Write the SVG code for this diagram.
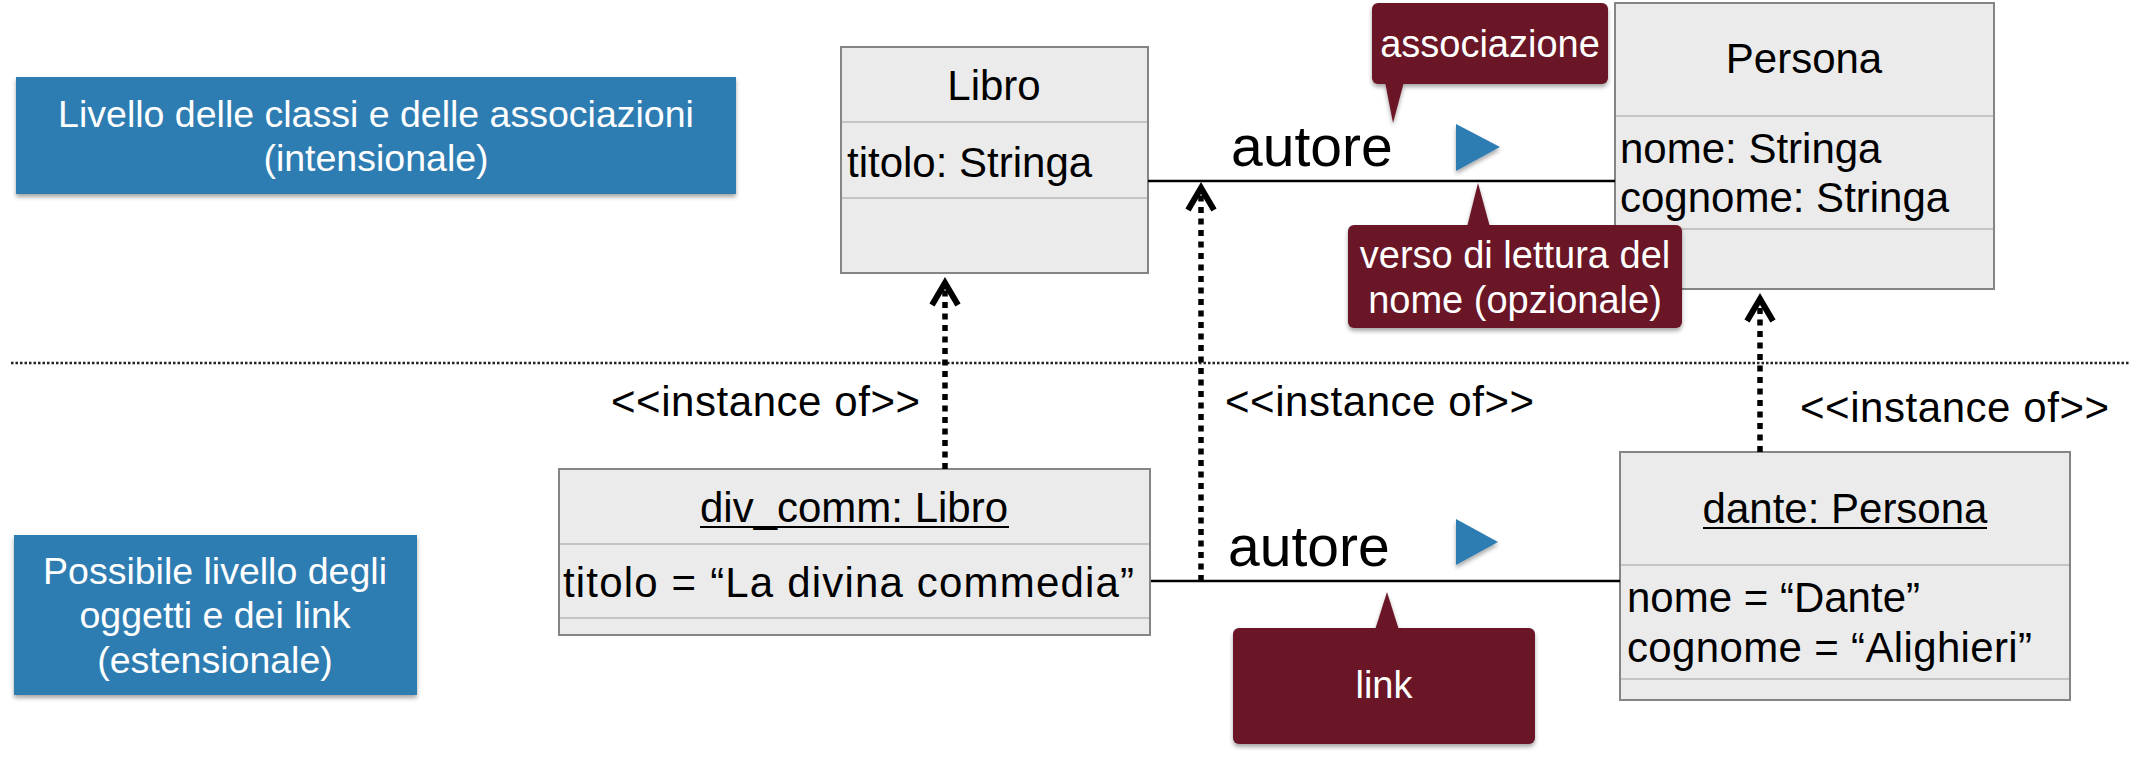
<svg xmlns="http://www.w3.org/2000/svg" width="2130" height="760" viewBox="0 0 2130 760">
  <defs>
    <filter id="shadow" x="-10%" y="-10%" width="120%" height="135%">
      <feDropShadow dx="0" dy="3" stdDeviation="2" flood-color="#000" flood-opacity="0.35"/>
    </filter>
    <!-- open chevron head for the <<instance of>> dependencies -->
    <marker id="chevron" markerUnits="userSpaceOnUse" viewBox="-30 -20 40 40" markerWidth="40" markerHeight="40" refX="0" refY="0" orient="auto" overflow="visible">
      <path d="M-22,-13 L0,0 L-22,13" fill="none" stroke="#000" stroke-width="6" stroke-linejoin="miter" stroke-dasharray="none"/>
    </marker>
  </defs>
  <style>
    text { font-family: "Liberation Sans", Arial, sans-serif; }
    .level { fill: #2f7db2; filter: url(#shadow); }
    .level-text { font-size: 37.5px; fill: #fff; text-anchor: middle; }
    .cls { fill: #ebebeb; stroke: #858585; stroke-width: 2; }
    .sep { stroke: #c4c4c4; stroke-width: 2; }
    .head { font-size: 42px; fill: #000; text-anchor: middle; }
    .attr { font-size: 42px; fill: #000; }
    .ul { stroke: #000; stroke-width: 2; }
    .role { font-size: 57px; fill: #000; }
    .dir { fill: #2f7db2; filter: url(#shadow); }
    .assoc { stroke: #000; stroke-width: 2.5; fill: none; }
    .dep { stroke: #000; stroke-width: 5.5; fill: none; stroke-dasharray: 6 5.5; marker-end: url(#chevron); }
    .stereo { font-size: 42px; fill: #000; }
    .note { fill: #6b1728; filter: url(#shadow); }
    .note-text { font-size: 38px; fill: #fff; text-anchor: middle; }
    .divider { stroke: #222; stroke-width: 2.5; stroke-dasharray: 2.5 2; }
  </style>

  <rect width="2130" height="760" fill="#fff"/>

  <!-- boundary between the two levels -->
  <line class="divider" x1="11" y1="363" x2="2130" y2="363"/>

  <!-- level labels -->
  <g id="level-intensional">
    <rect class="level" x="16" y="77" width="720" height="117"/>
    <text class="level-text" x="376" y="127">Livello delle classi e delle associazioni</text>
    <text class="level-text" x="376" y="171">(intensionale)</text>
  </g>
  <g id="level-extensional">
    <rect class="level" x="14" y="535" width="403" height="160"/>
    <text class="level-text" x="215" y="584">Possibile livello degli</text>
    <text class="level-text" x="215" y="628">oggetti e dei link</text>
    <text class="level-text" x="215" y="673">(estensionale)</text>
  </g>

  <!-- classes -->
  <g id="class-libro">
    <rect class="cls" x="841" y="47" width="307" height="226"/>
    <line class="sep" x1="842" y1="122" x2="1147" y2="122"/>
    <line class="sep" x1="842" y1="198" x2="1147" y2="198"/>
    <text class="head" x="994" y="100">Libro</text>
    <text class="attr" x="847" y="177">titolo: Stringa</text>
  </g>
  <g id="class-persona">
    <rect class="cls" x="1615" y="3" width="379" height="286"/>
    <line class="sep" x1="1616" y1="116" x2="1993" y2="116"/>
    <line class="sep" x1="1616" y1="229" x2="1993" y2="229"/>
    <text class="head" x="1804" y="73">Persona</text>
    <text class="attr" x="1620" y="163">nome: Stringa</text>
    <text class="attr" x="1620" y="212">cognome: Stringa</text>
  </g>

  <!-- objects -->
  <g id="object-div-comm">
    <rect class="cls" x="559" y="469" width="591" height="166"/>
    <line class="sep" x1="560" y1="544" x2="1149" y2="544"/>
    <line class="sep" x1="560" y1="618" x2="1149" y2="618"/>
    <text class="head" x="854" y="522">div_comm: Libro</text>
    <line class="ul" x1="700" y1="527" x2="1009" y2="527"/>
    <text class="attr" x="563" y="597" textLength="571" lengthAdjust="spacing">titolo = “La divina commedia”</text>
  </g>
  <g id="object-dante">
    <rect class="cls" x="1620" y="452" width="450" height="248"/>
    <line class="sep" x1="1621" y1="565" x2="2069" y2="565"/>
    <line class="sep" x1="1621" y1="679" x2="2069" y2="679"/>
    <text class="head" x="1845" y="523">dante: Persona</text>
    <line class="ul" x1="1703" y1="528" x2="1987" y2="528"/>
    <text class="attr" x="1627" y="612">nome = “Dante”</text>
    <text class="attr" x="1627" y="662" textLength="405" lengthAdjust="spacing">cognome = “Alighieri”</text>
  </g>

  <!-- connectors -->
  <g id="connectors">
    <!-- association autore and its link -->
    <line class="assoc" x1="1148" y1="181" x2="1615" y2="181"/>
    <line class="assoc" x1="1151" y1="581" x2="1620" y2="581"/>
    <text class="role" x="1231" y="166">autore</text>
    <text class="role" x="1228" y="566">autore</text>
    <polygon class="dir" points="1456,124 1500,147 1456,171"/>
    <polygon class="dir" points="1456,519 1498,542 1456,565"/>

    <!-- instance-of dependencies -->
    <path class="dep" d="M945,469 L945,283"/>
    <path class="dep" d="M1201,581 L1201,188"/>
    <path class="dep" d="M1760,452 L1760,299"/>
    <text class="stereo" x="611" y="416" textLength="309" lengthAdjust="spacing">&lt;&lt;instance of&gt;&gt;</text>
    <text class="stereo" x="1225" y="416" textLength="309" lengthAdjust="spacing">&lt;&lt;instance of&gt;&gt;</text>
    <text class="stereo" x="1800" y="422" textLength="309" lengthAdjust="spacing">&lt;&lt;instance of&gt;&gt;</text>
  </g>

  <!-- callouts -->
  <g id="note-associazione">
    <g class="note">
      <rect x="1372" y="3" width="236" height="81" rx="6"/>
      <polygon points="1385,82 1404,82 1393,123"/>
    </g>
    <text class="note-text" x="1490" y="57">associazione</text>
  </g>
  <g id="note-verso">
    <g class="note">
      <rect x="1348" y="225" width="334" height="103" rx="6"/>
      <polygon points="1467,227 1490,227 1478,183"/>
    </g>
    <text class="note-text" x="1515" y="268">verso di lettura del</text>
    <text class="note-text" x="1515" y="313">nome (opzionale)</text>
  </g>
  <g id="note-link">
    <g class="note">
      <rect x="1233" y="628" width="302" height="116" rx="6"/>
      <polygon points="1375,630 1399,630 1387,592"/>
    </g>
    <text class="note-text" x="1384" y="698">link</text>
  </g>
</svg>
